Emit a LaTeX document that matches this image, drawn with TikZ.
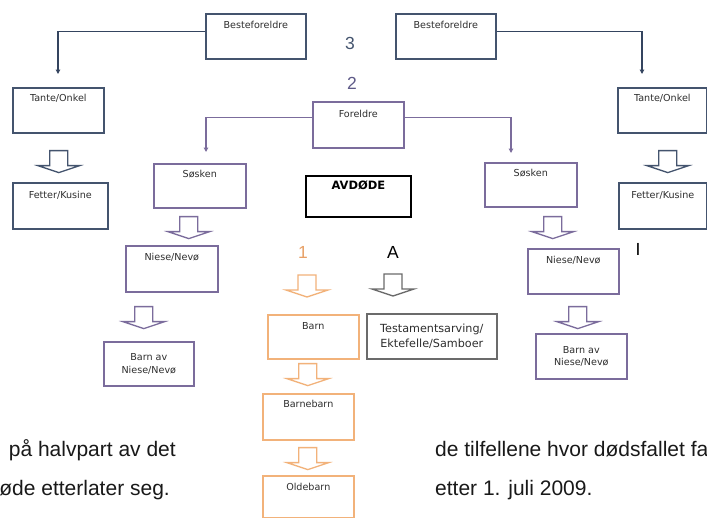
\documentclass[tikz,border=0pt]{standalone}
\usepackage{fontspec}
\setmainfont{Liberation Sans}
\newfontfamily\boxfont{DejaVu Sans}
\usetikzlibrary{arrows.meta,calc}
\definecolor{navy}{HTML}{44546E}
\definecolor{navyline}{HTML}{34445F}
\definecolor{purp}{HTML}{7B6C9C}
\definecolor{purpnum}{HTML}{5E5A88}
\definecolor{orng}{HTML}{F2B27A}
\definecolor{orngnum}{HTML}{E8A066}
\definecolor{grayb}{HTML}{6B6B6B}
\begin{document}
\begin{tikzpicture}[x=1pt,y=-1pt,
  bx/.style={draw, rectangle, inner sep=0pt, anchor=north west, align=center,
    font=\boxfont\fontsize{9.6}{12.5}\selectfont, text=black!82, line width=1.6pt},
  conn/.style={line width=1.3pt, -{Triangle[length=4.5pt,width=4.5pt]}},
  body/.style={inner sep=0pt, font=\fontsize{21}{25}\selectfont, text=black!90},
  num/.style={inner sep=0pt, font=\fontsize{17.5}{20}\selectfont},
  harrow/.pic={\draw[pic actions, line width=1.3pt, line join=miter]
    (-9,0) -- (9,0) -- (9,15) -- (21,15) -- (0,22) -- (-21,15) -- (-9,15) -- cycle;}
]
\clip (0,0) rectangle (707,517);
\fill[white] (0,0) rectangle (707,517);

% level 3
\node[bx, draw=navy, minimum width=100pt, text height=15pt, text depth=30pt] (bfL) at (205,13) {Besteforeldre};
\node[bx, draw=navy, minimum width=100pt, text height=15pt, text depth=30pt] (bfR) at (395,13) {Besteforeldre};
\node[bx, draw=navy, minimum width=91pt, text height=14pt, text depth=31pt] (toL) at (12,87) {Tante/Onkel};
\node[bx, draw=navy, minimum width=89pt, text height=14pt, text depth=31pt] (toR) at (617,87) {Tante/Onkel};
\node[bx, draw=navy, minimum width=95pt, text height=16pt, text depth=30pt] (fkL) at (12,182) {Fetter/Kusine};
\node[bx, draw=navy, minimum width=88pt, text height=16pt, text depth=30pt] (fkR) at (618,182) {Fetter/Kusine};

% level 2
\node[bx, draw=purp, minimum width=91pt, text height=16pt, text depth=30pt] (for) at (312,101) {Foreldre};
\node[bx, draw=purp, minimum width=92pt, text height=14pt, text depth=30pt] (sosL) at (153,163) {Søsken};
\node[bx, draw=purp, minimum width=92pt, text height=14pt, text depth=30pt] (sosR) at (484,162) {Søsken};
\node[bx, draw=purp, minimum width=92pt, text height=15pt, text depth=31pt] (nnL) at (125,245) {Niese/Nevø};
\node[bx, draw=purp, minimum width=91pt, text height=15pt, text depth=30pt] (nnR) at (527,248) {Niese/Nevø};
\node[bx, draw=purp, minimum width=90pt, minimum height=44pt] (bnL) at (103,341) {Barn av\\Niese/Nevø};
\node[bx, draw=purp, minimum width=91pt, minimum height=45pt] (bnR) at (535,333) {Barn av\\Niese/Nevø};

% deceased
\node[bx, draw=black, line width=1.9pt, minimum width=105pt, text height=14pt, text depth=27pt,
  font=\boxfont\bfseries\fontsize{11.5}{13}\selectfont, text=black] (avd) at (305,175) {AVDØDE};

% level 1
\node[bx, draw=orng, minimum width=91pt, text height=15pt, text depth=29pt] (barn) at (267,314) {Barn};
\node[bx, draw=orng, minimum width=91pt, text height=14pt, text depth=32pt] (bb) at (262,393) {Barnebarn};
\node[bx, draw=orng, minimum width=91pt, text height=15pt, text depth=27pt] (ob) at (262,475) {Oldebarn};

% testament
\node[bx, draw=grayb, minimum width=130pt, minimum height=45pt,
  font=\boxfont\fontsize{11.2}{14.5}\selectfont] (test) at (366,313) {Testamentsarving/\\Ektefelle/Samboer};

% numbers
\node[num, text=navy] (n3) at (350,43) {3};
\node[num, text=purpnum] (n2) at (352,83) {2};
\node[num, text=orngnum] (n1) at (303,252) {1};
\node[num, text=black] (nA) at (393,252) {A};
\node[num, text=black] (nI) at (638,249) {I};

% connectors
\coordinate (tipL) at (58,74);
\coordinate (tipR) at (642,74);
\coordinate (tipSL) at (206,152);
\coordinate (tipSR) at (511,153);
\draw[conn, navyline] ([yshift=5pt]bfL.west) -| (tipL);
\draw[conn, navyline] ([yshift=5pt]bfR.east) -| (tipR);
\draw[conn, purp] ([yshift=7pt]for.west) -| (tipSL);
\draw[conn, purp] ([yshift=7pt]for.east) -| (tipSR);

% hollow arrows
\pic[draw=navy] at ($(toL.south)+(0.5,17)$) {harrow};
\pic[draw=navy] at ($(toR.south)+(5.5,17)$) {harrow};
\pic[draw=purp] at ($(sosL.south)+(-11,8)$) {harrow};
\pic[draw=purp] at ($(sosR.south)+(22,9)$) {harrow};
\pic[draw=purp] at ($(nnL.south)+(-28,14)$) {harrow};
\pic[draw=purp] at ($(nnR.south)+(4.5,12)$) {harrow};
\pic[draw=orng] at ($(n1)+(4,23)$) {harrow};
\pic[draw=grayb] at ($(nA)+(0,22)$) {harrow};
\pic[draw=orng] at ($(barn.south)+(-5.5,4)$) {harrow};
\pic[draw=orng] at ($(bb.south)+(-0.5,7)$) {harrow};

% body text
\node[body, anchor=base east] (t1) at (176,456) {på halvpart av det};
\node[body, anchor=base east] (t2) at (170,495) {øde etterlater seg.};
\node[body, anchor=base west] (t3) at (435,456) {de tilfellene hvor dødsfallet fa};
\node[body, anchor=base west] (t4) at (435,495) {etter 1. juli 2009.};
\end{tikzpicture}
\end{document}
